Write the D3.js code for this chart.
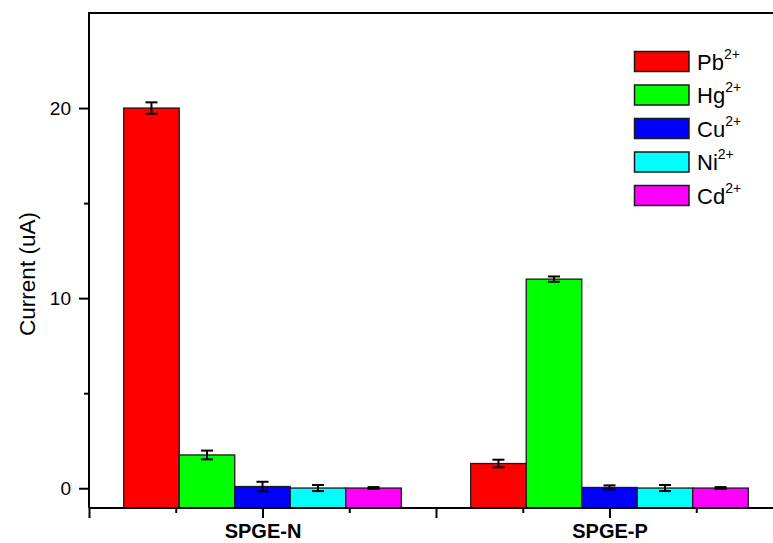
<!DOCTYPE html>
<html>
<head>
<meta charset="utf-8">
<script src="https://cdn.jsdelivr.net/npm/d3@7"></script>
<style>
  body { margin: 0; background: #fff; }
  svg { display: block; font-family: Arial, "Liberation Sans", sans-serif; }
</style>
</head>
<body>
<div id="chart"></div>
<script>
// Data
const categories = ["SPGE-N", "SPGE-P"];
const ions = ["Pb", "Hg", "Cu", "Ni", "Cd"];
const ionColors = ["#ff0000", "#00ff00", "#0000ff", "#00ffff", "#ff00ff"];
// one row per ion, one value per category
const currents = [
    [20.0, 1.3],
    [1.75, 11.0],
    [0.09, 0.04],
    [0.01, 0.01],
    [0.01, 0.01]
];
const errors = [
    [0.30, 0.20],
    [0.23, 0.14],
    [0.25, 0.11],
    [0.16, 0.16],
    [0.05, 0.05]
];
const yMajorTicks = [0, 10, 20];
const yMinorTicks = [5, 15];

const width = 773, height = 543;
const margin = { left: 89, top: 13, bottom: 35 };
const plotBottom = height - margin.bottom;

const svg = d3.select("#chart").append("svg")
    .attr("width", width).attr("height", height);

// x is a linear position axis: categories sit at 1 and 3
const x = d3.scaleLinear().domain([0, 4]).range([margin.left, margin.left + 4 * 173.5]);
const y = d3.scaleLinear().domain([-1.04, 25]).range([plotBottom, margin.top]);

const groupWidth = 1.6, barWidth = groupWidth / ions.length;

// Bars
const bars = [];
ions.forEach((ion, i) => {
    categories.forEach((cat, c) => {
        const center = 1 + 2 * c;
        bars.push({
            ion: i,
            x0: center - groupWidth / 2 + i * barWidth,
            v: currents[i][c],
            e: errors[i][c]
        });
    });
});

svg.append("g").selectAll("rect").data(bars).enter().append("rect")
    .attr("x", d => x(d.x0))
    .attr("y", d => y(d.v))
    .attr("width", d => x(d.x0 + barWidth) - x(d.x0))
    .attr("height", d => y(-1.04) - y(d.v))
    .attr("fill", d => ionColors[d.ion])
    .attr("stroke", "#1a1a1a")
    .attr("stroke-width", 1.3);

// Error bars
const err = svg.append("g").attr("stroke", "#000").attr("stroke-width", 2);
bars.forEach(d => {
    const cx = x(d.x0 + barWidth / 2);
    err.append("line").attr("x1", cx).attr("x2", cx).attr("y1", y(d.v + d.e)).attr("y2", y(d.v - d.e));
    err.append("line").attr("x1", cx - 6).attr("x2", cx + 6).attr("y1", y(d.v + d.e)).attr("y2", y(d.v + d.e));
    err.append("line").attr("x1", cx - 6).attr("x2", cx + 6).attr("y1", y(d.v - d.e)).attr("y2", y(d.v - d.e));
});

// Frame: top line
svg.append("line")
    .attr("x1", margin.left - 1).attr("x2", width)
    .attr("y1", margin.top).attr("y2", margin.top)
    .attr("stroke", "#000").attr("stroke-width", 2);

// Y axis
const yAxis = svg.append("g").attr("transform", `translate(${margin.left},0)`)
    .call(d3.axisLeft(y).tickValues(yMajorTicks).tickSize(10).tickPadding(8).tickFormat(d3.format("d")));
svg.append("g").attr("transform", `translate(${margin.left},0)`)
    .call(d3.axisLeft(y).tickValues(yMinorTicks).tickSize(5).tickFormat(""))
    .select(".domain").remove();
yAxis.select(".domain").attr("d", `M0,${margin.top}V${plotBottom}`);

// X axis
const xAxis = svg.append("g").attr("transform", `translate(0,${plotBottom})`)
    .call(d3.axisBottom(x).tickValues([0, 1, 2, 3]).tickSize(10).tickPadding(6)
        .tickFormat(d => d === 1 ? categories[0] : d === 3 ? categories[1] : ""));
xAxis.select(".domain").attr("d", `M${margin.left},0H${width}`);
svg.append("g").attr("transform", `translate(0,${plotBottom})`)
    .call(d3.axisBottom(x).tickValues([0.5, 1.5, 2.5, 3.5]).tickSize(5).tickFormat(""))
    .select(".domain").remove();

svg.selectAll(".domain").attr("stroke", "#000").attr("stroke-width", 2);
svg.selectAll(".tick line").attr("stroke", "#000").attr("stroke-width", 2);
yAxis.selectAll(".tick text").attr("font-size", 19).attr("fill", "#000")
    .attr("font-family", "Arial, 'Liberation Sans', sans-serif");
xAxis.selectAll(".tick text").attr("font-size", 20).attr("font-weight", "bold").attr("fill", "#000")
    .attr("font-family", "Arial, 'Liberation Sans', sans-serif");

// Y axis title
svg.append("text")
    .attr("transform", `translate(35,274) rotate(-90)`)
    .attr("text-anchor", "middle")
    .attr("font-size", 22.5)
    .attr("fill", "#000")
    .text("Current (uA)");

// Legend
const legend = svg.append("g");
ions.forEach((ion, i) => {
    const ly = 51.5 + i * 33.5;
    legend.append("rect")
        .attr("x", 634.5).attr("y", ly)
        .attr("width", 54.5).attr("height", 20)
        .attr("fill", ionColors[i])
        .attr("stroke", "#1a1a1a").attr("stroke-width", 1.5);
    const t = legend.append("text")
        .attr("x", 697).attr("y", ly + 18)
        .attr("font-size", 22).attr("fill", "#000");
    t.append("tspan").text(ion);
    t.append("tspan").attr("dy", -11).attr("font-size", 14).text("2+");
});
</script>
</body>
</html>
